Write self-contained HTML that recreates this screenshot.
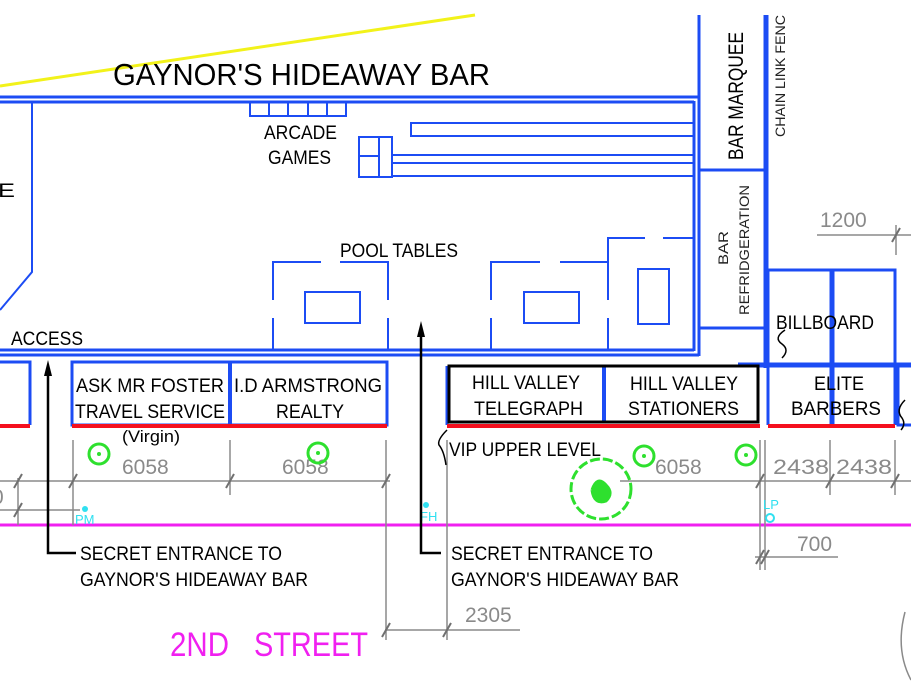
<!DOCTYPE html>
<html><head><style>
html,body{margin:0;padding:0;background:#fff;}
svg{display:block;}
text{font-family:"Liberation Sans",sans-serif;}
</style></head><body>
<svg width="911" height="692" viewBox="0 0 911 692" xmlns="http://www.w3.org/2000/svg">
<line x1="0" y1="86" x2="475" y2="15" stroke="#f2f21a" stroke-width="3"/>
<text x="113" y="85" font-size="31" textLength="377" lengthAdjust="spacingAndGlyphs">GAYNOR'S HIDEAWAY BAR</text>

<g stroke="#1c4cf4" fill="none">
<line x1="0" y1="97" x2="699" y2="97" stroke-width="3"/>
<line x1="0" y1="102" x2="694" y2="102" stroke-width="3"/>
<line x1="0" y1="350" x2="694" y2="350" stroke-width="3"/>
<line x1="0" y1="355" x2="699" y2="355" stroke-width="3"/>
<line x1="699" y1="15" x2="699" y2="356" stroke-width="3"/>
<line x1="694" y1="101" x2="694" y2="351" stroke-width="3"/>
<polyline points="32,102 32,272 0,310" stroke-width="2"/>
<rect x="250" y="102" width="96" height="14" stroke-width="2"/>
<line x1="269" y1="102" x2="269" y2="116" stroke-width="2"/>
<line x1="288" y1="102" x2="288" y2="116" stroke-width="2"/>
<line x1="308" y1="102" x2="308" y2="116" stroke-width="2"/>
<line x1="327" y1="102" x2="327" y2="116" stroke-width="2"/>
<polyline points="694,123 411,123 411,136 694,136" stroke-width="2"/>
<rect x="359" y="137" width="33" height="40" stroke-width="2"/>
<line x1="379" y1="137" x2="379" y2="177" stroke-width="2"/>
<line x1="359" y1="156" x2="379" y2="156" stroke-width="2"/>
<polyline points="392,156 392,163 694,163" stroke-width="2"/>
<line x1="392" y1="155" x2="694" y2="155" stroke-width="2"/>
<line x1="392" y1="176" x2="694" y2="176" stroke-width="2"/>
<polyline points="321,262 273,262 273,300" stroke-width="2"/>
<line x1="273" y1="318" x2="273" y2="350" stroke-width="2"/>
<polyline points="340,262 388,262 388,300" stroke-width="2"/>
<line x1="388" y1="318" x2="388" y2="350" stroke-width="2"/>
<rect x="305" y="292" width="55" height="31" stroke-width="2"/>
<polyline points="540,262 491,262 491,300" stroke-width="2"/>
<line x1="491" y1="318" x2="491" y2="350" stroke-width="2"/>
<polyline points="560,262 608,262 608,300" stroke-width="2"/>
<line x1="608" y1="318" x2="608" y2="350" stroke-width="2"/>
<rect x="524" y="292" width="55" height="31" stroke-width="2"/>
<polyline points="645,238 608,238 608,262" stroke-width="2"/>
<line x1="663" y1="238" x2="694" y2="238" stroke-width="2"/>
<rect x="638" y="269" width="31" height="55" stroke-width="2"/>
<line x1="699" y1="170" x2="766" y2="170" stroke-width="3"/>
<line x1="699" y1="328" x2="766" y2="328" stroke-width="3"/>
<line x1="766" y1="15" x2="766" y2="368" stroke-width="5"/>
<polyline points="768,369 768,270 895,270 895,425" stroke-width="3"/>
<line x1="832" y1="270" x2="832" y2="425" stroke-width="5"/>
<line x1="738" y1="365" x2="911" y2="365" stroke-width="5"/>
<polyline points="0,362 30,362 30,425" stroke-width="3"/>
<rect x="72" y="362" width="315" height="63" stroke-width="3"/>
<line x1="230" y1="362" x2="230" y2="425" stroke-width="4"/>
<line x1="447" y1="366" x2="447" y2="425" stroke-width="3"/>
<line x1="604" y1="366" x2="604" y2="422" stroke-width="4"/>
<line x1="768" y1="369" x2="768" y2="425" stroke-width="3"/>
<polyline points="911,365 898,365 898,425 911,425" stroke-width="3"/>
</g>
<rect x="449" y="366" width="309" height="56" fill="none" stroke="#000" stroke-width="3"/>
<g stroke="#f5101e" stroke-width="4">
<line x1="0" y1="426" x2="30" y2="426"/>
<line x1="72" y1="426" x2="387" y2="426"/>
<line x1="447" y1="426" x2="760" y2="426"/>
<line x1="768" y1="426" x2="895" y2="426"/>
</g>
<line x1="0" y1="525" x2="911" y2="525" stroke="#f020f0" stroke-width="3"/>

<g stroke="#8a8a8a" stroke-width="1.5" fill="none">
<line x1="0" y1="481" x2="390" y2="481"/>
<line x1="0" y1="510" x2="80" y2="510"/>
<line x1="18" y1="478" x2="18" y2="525"/>
<line x1="73" y1="440" x2="73" y2="525"/>
<line x1="230" y1="440" x2="230" y2="495"/>
<line x1="386" y1="440" x2="386" y2="640"/>
<line x1="447" y1="440" x2="447" y2="640"/>
<line x1="385" y1="630" x2="520" y2="630"/>
<line x1="620" y1="481" x2="911" y2="481"/>
<line x1="760" y1="440" x2="760" y2="570"/>
<line x1="765" y1="440" x2="765" y2="570"/>
<line x1="830" y1="440" x2="830" y2="495"/>
<line x1="895" y1="440" x2="895" y2="495"/>
<line x1="755" y1="557" x2="838" y2="557"/>
<line x1="817" y1="235" x2="911" y2="235"/>
<line x1="896" y1="225" x2="896" y2="255"/>
<path d="M905 612 Q895 650 911 680"/>
</g>
<g stroke="#707070" stroke-width="2">
<line x1="14" y1="488" x2="22" y2="474"/>
<line x1="14" y1="517" x2="22" y2="503"/>
<line x1="69" y1="488" x2="77" y2="474"/>
<line x1="226" y1="488" x2="234" y2="474"/>
<line x1="382" y1="488" x2="390" y2="474"/>
<line x1="756" y1="488" x2="764" y2="474"/>
<line x1="826" y1="488" x2="834" y2="474"/>
<line x1="891" y1="488" x2="899" y2="474"/>
<line x1="382" y1="637" x2="390" y2="623"/>
<line x1="443" y1="637" x2="451" y2="623"/>
<line x1="756" y1="564" x2="764" y2="550"/>
<line x1="761" y1="564" x2="769" y2="550"/>
<line x1="892" y1="242" x2="900" y2="228"/>
</g>
<g fill="#8a8a8a" font-size="21">
<text x="122" y="474">6058</text>
<text x="282" y="474">6058</text>
<text x="655" y="474">6058</text>
<text x="773" y="474" textLength="56" lengthAdjust="spacingAndGlyphs">2438</text>
<text x="836" y="474" textLength="56" lengthAdjust="spacingAndGlyphs">2438</text>
<text x="-8" y="504">0</text>
<text x="797" y="551">700</text>
<text x="465" y="622">2305</text>
<text x="820" y="227">1200</text>
</g>
<g stroke="#2ee02e" stroke-width="3" fill="none">
<circle cx="99" cy="454" r="10"/>
<circle cx="318" cy="453" r="10"/>
<circle cx="644" cy="456" r="10"/>
<circle cx="746" cy="455" r="10"/>
<circle cx="601" cy="489" r="30" stroke-dasharray="10 3"/>
<path d="M592 490 q5 -15 14 -5 q8 8 0 16 q-12 4 -14 -11" fill="#2ee02e"/>
</g>
<g fill="#2ee02e"><circle cx="99" cy="454" r="2"/><circle cx="318" cy="453" r="2"/><circle cx="644" cy="456" r="2"/><circle cx="746" cy="455" r="2"/></g>
<g fill="#30e0f0" font-size="13">
<circle cx="85" cy="509" r="3"/><text x="75" y="524">PM</text>
<circle cx="426" cy="505" r="3"/><text x="420" y="521">FH</text>
<circle cx="770" cy="518" r="4" fill="none" stroke="#30e0f0" stroke-width="2"/><text x="763" y="509">LP</text>
</g>
<g stroke="#000" stroke-width="2.5" fill="none">
<polyline points="48,370 48,553 76,553"/>
<polyline points="421,330 421,553 441,553"/>
<path d="M447 430 q-10 10 -8 15 q5 6 7 20" stroke-width="1.5"/>
<path d="M785 330 q-12 8 -3 14 q8 6 0 14" stroke-width="1.5"/>
<path d="M905 400 q-10 10 -3 18 q4 6 -1 12" stroke-width="1.5"/>
</g>
<polygon points="48,360 44,376 52,376" fill="#000"/>
<polygon points="421,321 417,337 425,337" fill="#000"/>

<g fill="#000" font-size="19">
<text x="264" y="139" textLength="73" lengthAdjust="spacingAndGlyphs">ARCADE</text>
<text x="268" y="164" textLength="63" lengthAdjust="spacingAndGlyphs">GAMES</text>
<text x="-2" y="197" textLength="17" lengthAdjust="spacingAndGlyphs">E</text>
<text x="340" y="257" textLength="118" lengthAdjust="spacingAndGlyphs">POOL TABLES</text>
<text x="11" y="345" textLength="72" lengthAdjust="spacingAndGlyphs">ACCESS</text>
<text x="776" y="329" textLength="98" lengthAdjust="spacingAndGlyphs">BILLBOARD</text>
<text x="76" y="392" textLength="148" lengthAdjust="spacingAndGlyphs">ASK MR FOSTER</text>
<text x="75" y="418" textLength="150" lengthAdjust="spacingAndGlyphs">TRAVEL SERVICE</text>
<text x="234" y="392" textLength="148" lengthAdjust="spacingAndGlyphs">I.D ARMSTRONG</text>
<text x="276" y="418" textLength="68" lengthAdjust="spacingAndGlyphs">REALTY</text>
<text x="472" y="389" textLength="108" lengthAdjust="spacingAndGlyphs">HILL VALLEY</text>
<text x="474" y="415" textLength="109" lengthAdjust="spacingAndGlyphs">TELEGRAPH</text>
<text x="630" y="390" textLength="108" lengthAdjust="spacingAndGlyphs">HILL VALLEY</text>
<text x="628" y="415" textLength="111" lengthAdjust="spacingAndGlyphs">STATIONERS</text>
<text x="814" y="390" textLength="50" lengthAdjust="spacingAndGlyphs">ELITE</text>
<text x="791" y="415" textLength="90" lengthAdjust="spacingAndGlyphs">BARBERS</text>
<text x="122" y="442" font-size="17" textLength="58" lengthAdjust="spacingAndGlyphs">(Virgin)</text>
<text x="449" y="456" textLength="152" lengthAdjust="spacingAndGlyphs">VIP UPPER LEVEL</text>
<text x="80" y="560" textLength="202" lengthAdjust="spacingAndGlyphs">SECRET ENTRANCE TO</text>
<text x="80" y="586" textLength="228" lengthAdjust="spacingAndGlyphs">GAYNOR'S HIDEAWAY BAR</text>
<text x="451" y="560" textLength="202" lengthAdjust="spacingAndGlyphs">SECRET ENTRANCE TO</text>
<text x="451" y="586" textLength="228" lengthAdjust="spacingAndGlyphs">GAYNOR'S HIDEAWAY BAR</text>
</g>
<text x="0" y="0" font-size="21" transform="translate(743,160) rotate(-90)" textLength="128" lengthAdjust="spacingAndGlyphs">BAR MARQUEE</text>
<text x="0" y="0" font-size="14" fill="#222" transform="translate(728,265) rotate(-90)" textLength="34" lengthAdjust="spacingAndGlyphs">BAR</text>
<text x="0" y="0" font-size="14" fill="#222" transform="translate(749,315) rotate(-90)" textLength="130" lengthAdjust="spacingAndGlyphs">REFRIDGERATION</text>
<text x="0" y="0" font-size="14" fill="#222" transform="translate(785,137) rotate(-90)" textLength="122" lengthAdjust="spacingAndGlyphs">CHAIN LINK FENC</text>
<text x="170" y="656" font-size="34" fill="#f020f0" textLength="59" lengthAdjust="spacingAndGlyphs">2ND</text>
<text x="254" y="656" font-size="34" fill="#f020f0" textLength="114" lengthAdjust="spacingAndGlyphs">STREET</text>
</svg>
</body></html>
